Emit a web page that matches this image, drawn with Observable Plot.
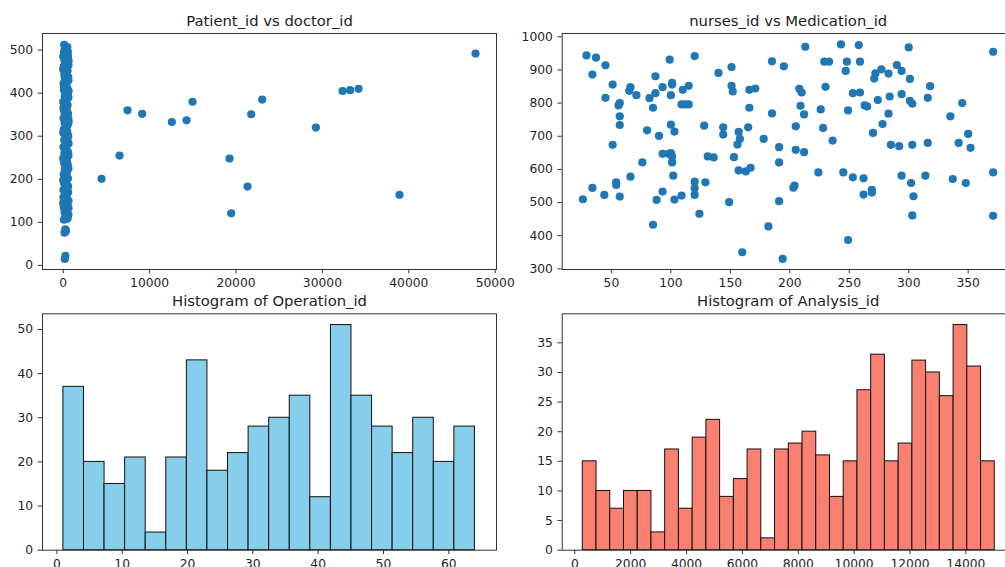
<!DOCTYPE html>
<html><head><meta charset="utf-8">
<script src="https://cdn.jsdelivr.net/npm/d3@7"></script>
<script src="https://cdn.jsdelivr.net/npm/@observablehq/plot@0.6"></script>
<style>
html,body{margin:0;padding:0;background:#fff;overflow:hidden;}
#root{position:relative;width:1005px;height:567px;overflow:hidden;background:#fff;font-family:"DejaVu Sans",sans-serif;}
#root svg{position:absolute;}
</style></head><body><div id="root"></div>
<script>
// ---- Panel 1: Patient_id vs doctor_id  [doctor_id, Patient_id]
const doctorPatientOutliers = [[4433,201],[6516,255],[7442,360],[9140,352],[12570,333],[14270,337],[14965,380],[19250,248],[19440,121],[21330,183],[21760,351],[23030,385],[29240,320],[32330,405],[33210,407],[34180,410],[38920,164],[47720,492]];
const doctorPatientColumn = [[180,15],[250,22],[150,76],[320,80],[240,84],
[80,106],[420,108],[520,110],[250,112],[600,118],[300,120],[150,124],[350,130],[600,133],[50,136],[500,141],[0,145],[280,146],[620,150],[120,155],[20,158],[400,160],[200,164],[560,170],[300,172],[30,175],[330,180],[560,183],[470,186],[100,191],[250,196],[0,198],[540,202],[380,207],[280,210],[60,212],[450,218],[180,223],[600,225],[300,228],[520,234],[150,236],[90,239],[410,244],[0,248],[230,250],[600,255],[140,260],[560,262],[480,265],[200,268],[360,270],[20,275],[260,280],[620,283],[430,286],[500,289],[110,291],[330,296],[580,300],[200,305],[0,308],[470,310],[260,313],[70,316],[350,321],[520,326],[160,331],[620,333],[420,337],[600,340],[40,342],[290,347],[560,352],[420,355],[130,357],[390,362],[20,365],[220,367],[500,372],[60,377],[0,380],[320,382],[450,387],[600,390],[170,392],[540,397],[250,402],[620,405],[90,407],[480,412],[100,415],[340,417],[30,422],[420,427],[600,430],[200,432],[580,437],[300,440],[120,442],[360,447],[500,452],[0,455],[230,457],[60,462],[600,465],[440,467],[300,472],[620,475],[150,477],[540,482],[0,485],[260,487],[540,489],[410,491],[80,495],[520,497],[330,499],[190,503],[470,507],[110,512]];
const doctorPatient = doctorPatientOutliers.concat(doctorPatientColumn);
const p1Ticks = {x:[0,10000,20000,30000,40000,50000], y:[0,100,200,300,400,500]};

// ---- Panel 2: nurses_id vs Medication_id  [nurses_id, Medication_id]
const nursesMedication = [[243,977],[258,975],[213,970],[300,968],[371,955],[29,944],[37,937],[120,942],[99,931],[185,926],[229,925],[233,925],[248,925],[259,925],[45,914],[195,911],[290,915],[151,909],[277,902],[294,897],[247,897],[140,891],[272,890],[283,889],[34,886],[87,881],[271,874],[301,873],[101,861],[101,856],[51,856],[151,852],[115,852],[93,848],[66,848],[230,849],[318,851],[208,843],[171,844],[166,840],[65,837],[110,840],[152,835],[210,832],[253,830],[259,832],[71,824],[87,830],[100,824],[82,815],[45,816],[284,820],[316,816],[294,827],[274,809],[345,800],[57,800],[56,793],[109,796],[112,796],[115,796],[301,807],[303,798],[263,793],[265,790],[209,792],[85,786],[166,786],[226,781],[249,778],[283,768],[185,769],[212,766],[57,760],[335,760],[278,737],[57,734],[100,735],[128,732],[205,730],[144,727],[165,727],[228,725],[80,718],[103,714],[157,713],[270,710],[350,707],[144,705],[90,701],[178,692],[158,692],[236,687],[342,680],[316,680],[285,674],[303,674],[156,675],[51,674],[292,670],[352,665],[191,667],[205,659],[100,649],[212,652],[93,647],[98,647],[131,639],[136,636],[101,639],[153,637],[101,621],[76,621],[191,621],[371,591],[224,591],[245,591],[294,581],[314,581],[157,597],[163,594],[167,605],[253,576],[262,573],[337,571],[66,578],[102,581],[120,563],[129,561],[302,559],[348,559],[54,561],[54,553],[120,543],[204,551],[203,545],[34,544],[269,538],[269,530],[262,524],[304,519],[93,533],[120,523],[44,523],[57,518],[109,521],[26,510],[103,509],[88,508],[149,501],[191,504],[124,466],[303,461],[371,460],[85,433],[182,428],[249,387],[160,350],[194,330]];
const p2Ticks = {x:[50,100,150,200,250,300,350], y:[300,400,500,600,700,800,900,1000]};

// ---- Panel 3: Histogram of Operation_id
const operationCounts = [37,20,15,21,4,21,43,18,22,28,30,35,12,51,35,28,22,30,20,28];
const operationRange = [1, 64];
const p3Ticks = {x:[0,10,20,30,40,50,60], y:[0,10,20,30,40,50]};

// ---- Panel 4: Histogram of Analysis_id
const analysisCounts = [15,10,7,10,10,3,17,7,19,22,9,12,17,2,17,18,20,16,9,15,27,33,15,18,32,30,26,38,31,15];
const analysisRange = [286, 15035];
const p4Ticks = {x:[0,2000,4000,6000,8000,10000,12000,14000], y:[0,5,10,15,20,25,30,35]};

const titles = ["Patient_id vs doctor_id","nurses_id vs Medication_id","Histogram of Operation_id","Histogram of Analysis_id"];

function toBins(counts, range) {
  const n = counts.length, [lo, hi] = range;
  return counts.map((c, i) => ({x0: lo + (hi - lo) * i / n, x1: lo + (hi - lo) * (i + 1) / n, count: c}));
}

const root = document.getElementById("root");
const FONT = "DejaVu Sans";

function panel(o) {
  const p = Plot.plot({
    width: o.width, height: o.height,
    marginLeft: o.ml, marginRight: o.mr, marginTop: o.mt, marginBottom: o.mb,
    x: {domain: o.xDomain},
    y: {domain: o.yDomain},
    style: {fontFamily: FONT, fontSize: "12.3px", color: "#222", background: "transparent", overflow: "visible", maxWidth: "none"},
    marks: [
      ...o.marks,
      Plot.frame({stroke: "#333", strokeWidth: 1}),
      Plot.axisX(o.ticks.x, {tickSize: 4.3, tickPadding: 4.5, tickFormat: d => String(d), label: null, fontSize: 12.3, fontFamily: FONT, stroke: "#333", fill: "#222"}),
      Plot.axisY(o.ticks.y, {tickSize: 4.3, tickPadding: 5, tickFormat: d => String(d), label: null, fontSize: 12.3, fontFamily: FONT, stroke: "#333", fill: "#222"}),
      Plot.text([o.title], {frameAnchor: "top", dy: -7.4, lineAnchor: "bottom", fontSize: 14.8, fontFamily: FONT, fill: "#222"})
    ]
  });
  p.style.left = o.left + "px";
  p.style.top = o.top + "px";
  root.append(p);
}

panel({left: 0, top: 0, width: 515, height: 300, ml: 42, mr: 19, mt: 33, mb: 31,
  xDomain: [-2400, 50150], yDomain: [-9.5, 538.5], ticks: p1Ticks, title: titles[0],
  marks: [Plot.dot(doctorPatient, {x: d => d[0], y: d => d[1], r: 4.1, fill: "#1f77b4", stroke: "none"})]});

panel({left: 495, top: 0, width: 540, height: 300, ml: 66.7, mr: 21.3, mt: 33, mb: 31,
  xDomain: [8.6, 388.7], yDomain: [298, 1010], ticks: p2Ticks, title: titles[1],
  marks: [Plot.dot(nursesMedication, {x: d => d[0], y: d => d[1], r: 4.1, fill: "#1f77b4", stroke: "none"})]});

panel({left: 0, top: 280, width: 515, height: 287, ml: 42, mr: 19, mt: 33.3, mb: 17.3,
  xDomain: [-2.2, 67.3], yDomain: [0, 53.55], ticks: p3Ticks, title: titles[2],
  marks: [Plot.rectY(toBins(operationCounts, operationRange), {x1: "x0", x2: "x1", y: "count", fill: "#87CEEB", stroke: "#111", strokeWidth: 1})]});

panel({left: 495, top: 280, width: 540, height: 287, ml: 66.7, mr: 21.3, mt: 33.3, mb: 17.3,
  xDomain: [-451, 15730], yDomain: [0, 39.9], ticks: p4Ticks, title: titles[3],
  marks: [Plot.rectY(toBins(analysisCounts, analysisRange), {x1: "x0", x2: "x1", y: "count", fill: "#FA8072", stroke: "#111", strokeWidth: 1})]});
</script></body></html>
